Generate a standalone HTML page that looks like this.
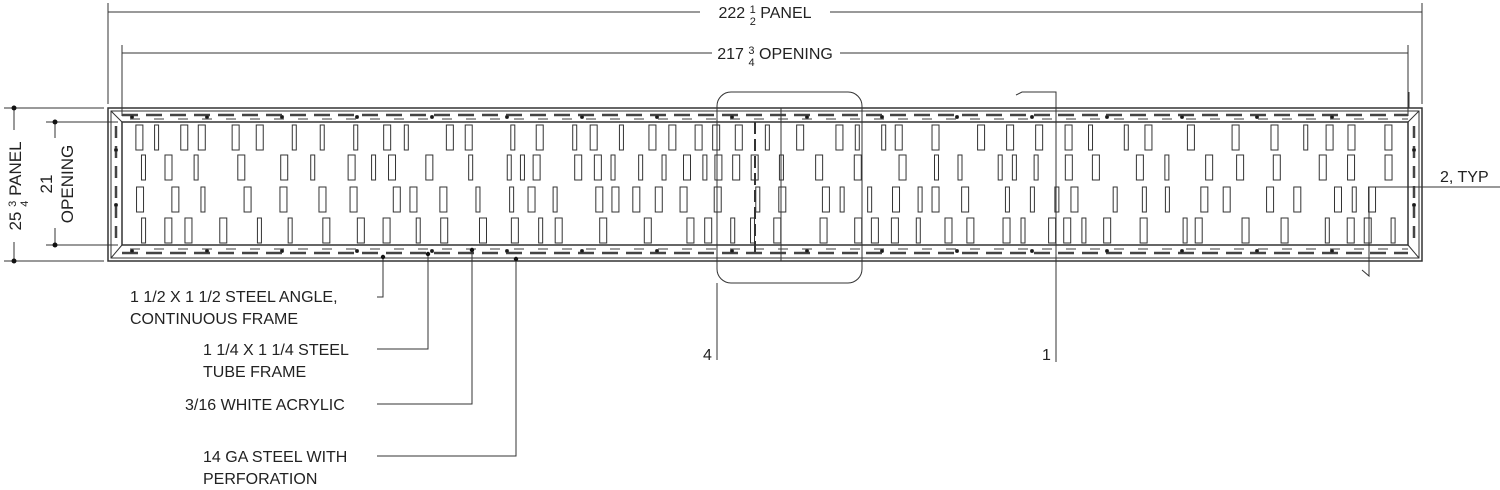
<!DOCTYPE html>
<html><head><meta charset="utf-8"><style>
html,body{margin:0;padding:0;background:#fff;width:1500px;height:490px;overflow:hidden}
svg{display:block}
text{font-family:"Liberation Sans",sans-serif;fill:#222}
</style></head><body>
<svg id="s" width="1500" height="490" viewBox="0 0 1500 490" xmlns="http://www.w3.org/2000/svg">
<g stroke="#333" stroke-width="1" fill="none">
<line x1="108" y1="12" x2="700" y2="12"/><line x1="830" y1="12" x2="1422" y2="12"/>
<line x1="108" y1="3" x2="108" y2="104"/><line x1="1422" y1="3" x2="1422" y2="104"/>
<line x1="122" y1="53" x2="712" y2="53"/><line x1="840" y1="53" x2="1408" y2="53"/>
<line x1="122" y1="45" x2="122" y2="116"/><line x1="1408" y1="45" x2="1408" y2="116"/>
<line x1="14" y1="108" x2="14" y2="130"/><line x1="14" y1="242" x2="14" y2="261"/>
<line x1="4" y1="108" x2="104" y2="108"/><line x1="4" y1="261" x2="104" y2="261"/>
<line x1="55" y1="122" x2="55" y2="138"/><line x1="55" y1="228" x2="55" y2="245"/>
<line x1="46" y1="122" x2="118" y2="122"/><line x1="46" y1="245" x2="118" y2="245"/>
<rect x="108" y="108" width="1314" height="153" stroke-width="1.5"/>
<rect x="111" y="111" width="1308" height="147"/>
<rect x="122" y="122" width="1286" height="123" stroke-width="1.5"/>
<line x1="111" y1="111" x2="122" y2="122"/><line x1="1419" y1="111" x2="1408" y2="122"/>
<line x1="111" y1="258" x2="122" y2="245"/><line x1="1419" y1="258" x2="1408" y2="245"/>
<line x1="122" y1="115" x2="1408" y2="115" stroke="#444" stroke-width="2.5" stroke-dasharray="16,8"/>
<line x1="130" y1="119" x2="1408" y2="119" stroke="#666" stroke-width="1.2" stroke-dasharray="10,14"/>
<line x1="122" y1="253" x2="1408" y2="253" stroke="#444" stroke-width="2.5" stroke-dasharray="16,8"/>
<line x1="130" y1="249" x2="1408" y2="249" stroke="#666" stroke-width="1.2" stroke-dasharray="10,14"/>
<line x1="116" y1="126" x2="116" y2="242" stroke="#444" stroke-width="2.5" stroke-dasharray="12,8"/>
<line x1="1414" y1="126" x2="1414" y2="242" stroke="#444" stroke-width="2.5" stroke-dasharray="12,8"/>
<line x1="755" y1="122" x2="755" y2="252" stroke="#333" stroke-width="2" stroke-dasharray="12,5"/>
<line x1="781" y1="108" x2="781" y2="261"/>
<g id="slots"></g>
<rect x="717" y="92" width="145" height="191" rx="14"/>
<line x1="717" y1="283" x2="717" y2="360"/>
<polyline points="1016,95 1022,92 1056,92 1056,362"/>
<line x1="1370" y1="187" x2="1500" y2="187"/>
<polyline points="1369,187 1369,276 1362,270"/>
<line x1="1409" y1="92" x2="1409" y2="108"/>
<polyline points="383,257 383,297 377,297"/>
<polyline points="428,254 428,349 377,349"/>
<polyline points="472,250 472,404 377,404"/>
<polyline points="516,259 516,456 377,456"/>
</g>
<g fill="#111">
<circle cx="14" cy="108" r="2.5"/><circle cx="14" cy="261" r="2.5"/>
<circle cx="55" cy="122" r="2.5"/><circle cx="55" cy="245" r="2.5"/>
<circle cx="383" cy="257" r="2.2"/><circle cx="428" cy="254" r="2.2"/><circle cx="472" cy="250" r="2.2"/><circle cx="516" cy="259" r="2.2"/>
</g>
<g font-size="16">
<text x="765" y="18" text-anchor="middle">222 <tspan font-size="11" dy="-5">1</tspan><tspan font-size="11" dx="-6" dy="12">2</tspan><tspan dy="-7"> PANEL</tspan></text>
<text x="775" y="59" text-anchor="middle">217 <tspan font-size="11" dy="-5">3</tspan><tspan font-size="11" dx="-6" dy="12">4</tspan><tspan dy="-7"> OPENING</tspan></text>
<text transform="translate(21,186) rotate(-90)" text-anchor="middle" font-size="17">25 <tspan font-size="11" dy="-5">3</tspan><tspan font-size="11" dx="-6" dy="12">4</tspan><tspan dy="-7"> PANEL</tspan></text>
<text transform="translate(52,184) rotate(-90)" text-anchor="middle" font-size="17">21</text>
<text transform="translate(73,184) rotate(-90)" text-anchor="middle" font-size="17">OPENING</text>
<text x="1440" y="182">2, TYP</text>
<text x="703" y="360">4</text>
<text x="1042" y="360">1</text>
<text x="130" y="302">1 1/2 X 1 1/2 STEEL ANGLE,</text>
<text x="130" y="324">CONTINUOUS FRAME</text>
<text x="203" y="355">1 1/4 X 1 1/4 STEEL</text>
<text x="203" y="377">TUBE FRAME</text>
<text x="185" y="410">3/16 WHITE ACRYLIC</text>
<text x="203" y="462">14 GA STEEL WITH</text>
<text x="203" y="484">PERFORATION</text>
</g>
</svg>
<script>
(function(){
var g=document.getElementById('slots'),s=7,ns='http://www.w3.org/2000/svg';
function r(){s=(s*9301+49297)%233280;return s/233280;}
var rows=[125,155,187,218];
function add(tag,a){var e=document.createElementNS(ns,tag);for(var k in a)e.setAttribute(k,a[k]);g.appendChild(e);}
rows.forEach(function(y){var x=130+r()*12;while(x<1396){var w=r()<0.3?4:7;add('rect',{x:x,y:y,width:w,height:25,stroke:'#333','stroke-width':1,fill:'none'});x+=w+8+r()*32;}});
for(var x=132;x<1400;x+=75){add('circle',{cx:x,cy:117,r:1.5,fill:'#111'});add('circle',{cx:x,cy:251,r:1.5,fill:'#111'});}
[150,205].forEach(function(y){add('circle',{cx:116,cy:y,r:1.5,fill:'#111'});add('circle',{cx:1414,cy:y,r:1.5,fill:'#111'});});
})();
</script>
</body></html>
